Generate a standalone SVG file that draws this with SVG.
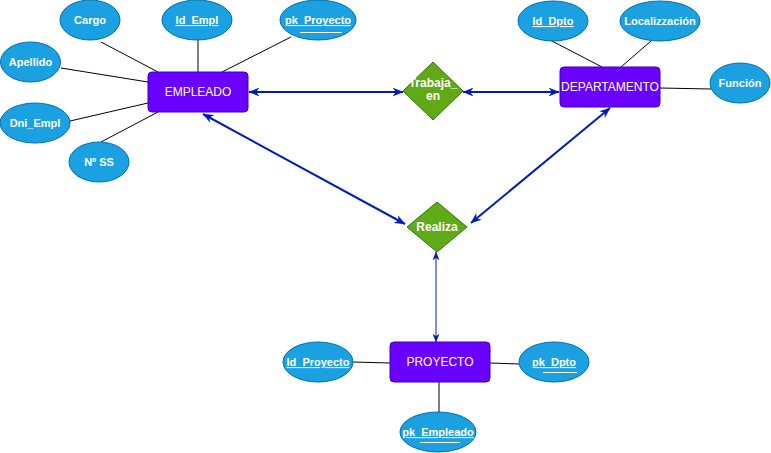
<svg xmlns="http://www.w3.org/2000/svg" width="771" height="453" viewBox="0 0 771 453">
<defs>
<marker id="arr" viewBox="0 0 10 8" refX="9.5" refY="4" markerWidth="11" markerHeight="9" markerUnits="userSpaceOnUse" orient="auto-start-reverse">
<path d="M0,0 L10,4 L0,8 L3,4 Z" fill="#001dbc"/>
</marker>
<marker id="arrs" viewBox="0 0 10 8" refX="9.5" refY="4" markerWidth="9" markerHeight="7" markerUnits="userSpaceOnUse" orient="auto-start-reverse">
<path d="M0,0 L10,4 L0,8 L3,4 Z" fill="#001dbc"/>
</marker>
</defs>
<style>
.attr{fill:#1ba1e2;stroke:#006eaf;stroke-width:1}
.ent{fill:#6a00ff;stroke:#3700cc;stroke-width:1}
.rel{fill:#60a917;stroke:#2d7600;stroke-width:1}
.t{font-family:"Liberation Sans",Arial,sans-serif;fill:#ffffff;text-anchor:middle}
.ta{font-size:11px;font-weight:bold}
.te{font-size:12px}
.tr{font-size:12px;font-weight:bold}
.u{text-decoration:underline}
.ul{stroke:#ffffff;stroke-width:1}
.al{stroke:#000000;stroke-width:1;fill:none}
.c{stroke:#001dbc;stroke-width:2;fill:none;marker-start:url(#arr);marker-end:url(#arr)}
.cs{stroke:#001dbc;stroke-width:1;fill:none;marker-start:url(#arrs);marker-end:url(#arrs)}
</style>
<rect width="771" height="453" fill="#ffffff"/>
<g id="attr-lines">
<line class="al" x1="101" y1="42" x2="158" y2="72"/>
<line class="al" x1="198" y1="40" x2="198" y2="72"/>
<line class="al" x1="291" y1="37" x2="222" y2="72"/>
<line class="al" x1="61" y1="68" x2="148" y2="82"/>
<line class="al" x1="70" y1="121" x2="148" y2="103"/>
<line class="al" x1="101" y1="142" x2="158" y2="112"/>
<line class="al" x1="550" y1="40" x2="602" y2="67"/>
<line class="al" x1="651" y1="41" x2="621" y2="67"/>
<line class="al" x1="660" y1="88" x2="711" y2="89"/>
<line class="al" x1="353" y1="362" x2="390" y2="363"/>
<line class="al" x1="490" y1="363" x2="519" y2="364"/>
<line class="al" x1="439" y1="382" x2="439" y2="412"/>
</g>
<g id="connectors">
<line class="c" x1="249" y1="92" x2="403" y2="92"/>
<line class="c" x1="463" y1="92" x2="559" y2="92"/>
<line class="c" x1="203" y1="114" x2="405" y2="224"/>
<line class="c" x1="610" y1="108" x2="471" y2="223"/>
<line class="cs" x1="436" y1="252" x2="436" y2="342"/>
</g>
<g id="empleado"><rect class="ent" x="148" y="72" width="100" height="40" rx="4"/><text class="t te" x="198" y="96">EMPLEADO</text></g>
<g id="departamento"><rect class="ent" x="560" y="67" width="100" height="40" rx="4"/><text class="t te" x="610" y="91">DEPARTAMENTO</text></g>
<g id="proyecto"><rect class="ent" x="390" y="342" width="100" height="40" rx="4"/><text class="t te" x="440" y="366">PROYECTO</text></g>
<g id="trabaja_en"><polygon class="rel" points="433,62 463,91 433,120 403,91"/><text class="t tr" x="433" y="87">Trabaja_</text><text class="t tr" x="433" y="100">en</text></g>
<g id="realiza"><polygon class="rel" points="437,202 467,227 437,252 407,227"/><text class="t tr" x="437" y="231">Realiza</text></g>
<g id="cargo"><ellipse class="attr" cx="90" cy="20" rx="30" ry="20"/><text class="t ta" x="90" y="24">Cargo</text></g>
<g id="id_empl"><ellipse class="attr" cx="197" cy="20" rx="35" ry="20"/><text class="t ta u" x="197" y="24">Id_Empl</text></g>
<g id="pk_proyecto"><ellipse class="attr" cx="318" cy="20" rx="38" ry="20"/><text class="t ta u" x="318" y="24">pk_Proyecto</text><line class="ul" x1="300" y1="32.5" x2="342" y2="32.5"/></g>
<g id="apellido"><ellipse class="attr" cx="30.5" cy="62" rx="30" ry="20"/><text class="t ta" x="30.5" y="66">Apellido</text></g>
<g id="dni_empl"><ellipse class="attr" cx="35" cy="123" rx="35" ry="20"/><text class="t ta" x="35" y="127">Dni_Empl</text></g>
<g id="nss"><ellipse class="attr" cx="99" cy="162" rx="30" ry="20"/><text class="t ta" x="99" y="166">Nº SS</text></g>
<g id="id_dpto"><ellipse class="attr" cx="553" cy="21" rx="35" ry="20"/><text class="t ta u" x="553" y="25">Id_Dpto</text></g>
<g id="localizzacion"><ellipse class="attr" cx="660" cy="21" rx="40" ry="20"/><text class="t ta" x="660" y="25">Localizzación</text></g>
<g id="funcion"><ellipse class="attr" cx="740" cy="83" rx="30" ry="20"/><text class="t ta" x="740" y="87">Función</text></g>
<g id="id_proyecto"><ellipse class="attr" cx="318" cy="362" rx="35" ry="20"/><text class="t ta u" x="318" y="366">Id_Proyecto</text></g>
<g id="pk_dpto"><ellipse class="attr" cx="554" cy="362" rx="35" ry="20"/><text class="t ta u" x="554" y="366">pk_Dpto</text><line class="ul" x1="543" y1="372.5" x2="577" y2="372.5"/></g>
<g id="pk_empleado"><ellipse class="attr" cx="438" cy="432" rx="38" ry="20"/><text class="t ta u" x="438" y="436">pk_Empleado</text><line class="ul" x1="420" y1="442.5" x2="460" y2="442.5"/></g>
</svg>
